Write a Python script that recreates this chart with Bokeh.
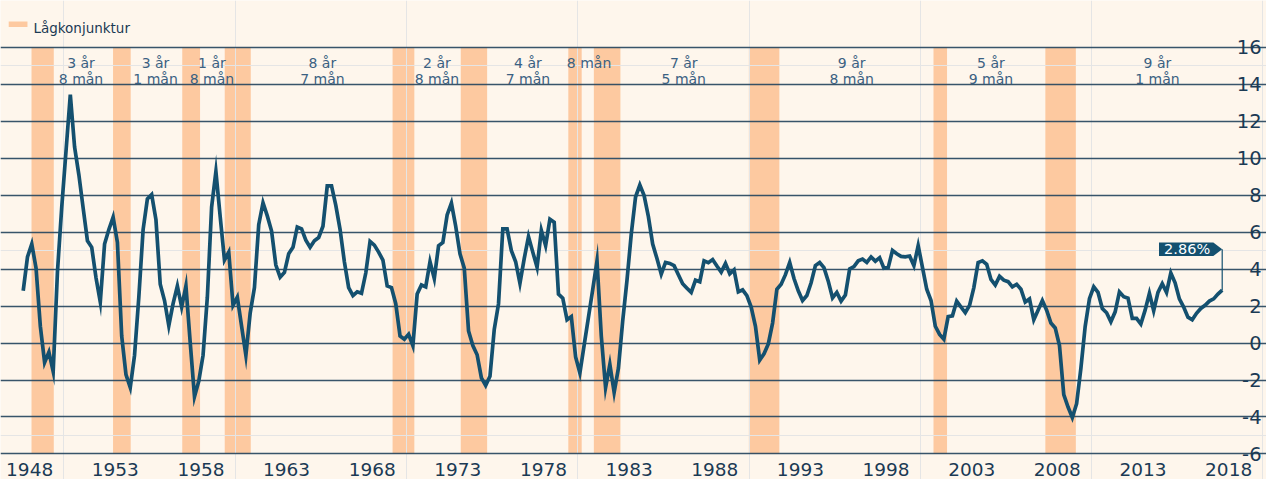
from bokeh.plotting import figure
from bokeh.models import Range1d, Grid, FixedTicker
from bokeh.core.properties import value
from bokeh.embed import file_html
from bokeh.resources import INLINE

# ---------------- data ----------------
start_year = 1947.625   # first quarterly observation (chart time axis)
step = 0.25
gdp_yoy = [
    2.83, 4.66, 5.36, 4.05, 0.91, -1.05, -0.49, -1.54,
    3.87, 7.36, 10.4, 13.44, 10.6, 9.1, 7.3, 5.53,
    5.18, 3.53, 2.22, 5.36, 6.14, 6.81, 5.44, 0.38,
    -1.71, -2.41, -0.66, 2.48, 6.14, 7.8, 8.03, 6.67,
    3.18, 2.3, 0.94, 2.13, 3.09, 1.95, 3.09, 0.03,
    -2.9, -2.06, -0.66, 2.48, 7.36, 9.28, 6.84, 4.49,
    4.92, 2.04, 2.48, 0.91, -0.66, 1.61, 3.0, 6.4,
    7.59, 6.88, 6.06, 4.22, 3.56, 3.82, 4.83, 5.18,
    6.28, 6.18, 5.57, 5.18, 5.53, 5.71, 6.32, 8.5,
    8.5, 7.45, 6.14, 4.4, 3.0, 2.57, 2.77, 2.69,
    3.79, 5.5, 5.3, 4.92, 4.49, 3.09, 3.0, 2.13,
    0.38, 0.21, 0.47, -0.14, 2.65, 3.14, 3.04, 4.4,
    3.49, 5.27, 5.44, 6.93, 7.57, 6.32, 4.83, 4.05,
    0.65, -0.14, -0.63, -1.88, -2.29, -1.8, 0.73, 2.13,
    6.18, 6.18, 5.0, 4.4, 3.23, 4.57, 5.76, 4.92,
    4.1, 6.1, 5.27, 6.7, 6.54, 2.65, 2.43, 1.26,
    1.43, -0.75, -1.62, -0.1, 1.4, 2.9, 4.45, 0.38,
    -2.41, -1.15, -2.67, -1.36, 1.2, 3.4, 5.9, 7.9,
    8.55, 7.98, 6.84, 5.36, 4.57, 3.73, 4.36, 4.31,
    4.19, 3.7, 3.21, 2.97, 2.74, 3.4, 3.32, 4.45,
    4.35, 4.52, 4.17, 3.84, 4.31, 3.75, 3.96, 2.77,
    2.88, 2.57, 1.95, 0.91, -0.92, -0.58, -0.05, 1.08,
    2.91, 3.18, 3.7, 4.36, 3.49, 2.83, 2.3, 2.57,
    3.26, 4.19, 4.36, 4.08, 3.35, 2.44, 2.74, 2.27,
    2.6, 4.01, 4.14, 4.45, 4.54, 4.36, 4.66, 4.43,
    4.62, 4.05, 4.08, 5.01, 4.83, 4.69, 4.66, 4.71,
    4.19, 5.27, 4.1, 2.91, 2.3, 0.91, 0.47, 0.21,
    1.43, 1.47, 2.27, 1.95, 1.64, 2.04, 3.0, 4.36,
    4.45, 4.26, 3.44, 3.14, 3.61, 3.4, 3.32, 3.04,
    3.18, 2.91, 2.22, 2.39, 1.26, 1.78, 2.3, 1.78,
    1.08, 0.82, -0.14, -2.79, -3.46, -4.03, -3.28, -1.36,
    0.9, 2.4, 3.04, 2.74, 1.87, 1.64, 1.15, 1.69,
    2.77, 2.51, 2.43, 1.34, 1.34, 1.03, 1.78, 2.69,
    1.75, 2.74, 3.21, 2.74, 3.79, 3.26, 2.39, 1.95,
    1.4, 1.26, 1.61, 1.87, 2.04, 2.27, 2.39, 2.65,
    2.86,
]
years = [start_year + step * i for i in range(len(gdp_yoy))]

rec_start = [1948.11, 1952.87, 1956.91, 1959.39, 1969.19, 1973.17,
             1979.45, 1980.94, 1989.99, 2000.77, 2007.30]
rec_end = [1949.41, 1953.90, 1957.95, 1960.91, 1970.46, 1974.71,
           1980.23, 1982.49, 1991.77, 2001.56, 2009.08]

exp_mid = [1951.00, 1955.35, 1958.64, 1965.09, 1971.78, 1977.09,
           1980.66, 1986.19, 1995.99, 2004.12, 2013.84]
exp_line1 = ["3 år", "3 år", "1 år", "8 år", "2 år", "4 år",
             "8 mån", "7 år", "9 år", "5 år", "9 år"]
exp_line2 = ["8 mån", "1 mån", "8 mån", "7 mån", "8 mån", "7 mån",
             "", "5 mån", "8 mån", "9 mån", "1 mån"]

x_ticks = [1948, 1953, 1958, 1963, 1968, 1973, 1978, 1983, 1988, 1993,
           1998, 2003, 2008, 2013, 2018]
x_tick_labels = [str(t) for t in x_ticks]
y_ticks = [-6, -4, -2, 0, 2, 4, 6, 8, 10, 12, 14, 16]
y_tick_labels = [str(t) for t in y_ticks]

legend_label = "Lågkonjunktur"
last_label = "2.86%"

# ---------------- layout (reference pixels -> data space) ----------------
REF_W, REF_H = 1282, 495
X0_PX, YEAR0, PX_PER_YEAR = 29.5, 1948.0, 17.345
Y0_PX, PX_PER_UNIT = 354.0, 19.1
W, H = 1266, 479


def t_at(px):
    return YEAR0 + (px - X0_PX) / PX_PER_YEAR


def v_at(py):
    return (Y0_PX - py) / PX_PER_UNIT


BG = "#fef6ec"
BAND = "#fdc9a0"
LINE = "#14506f"
GRID = "#22425c"
TXT = "#1b3a54"
ANN = "#3b6182"
FONT = value("DejaVu Sans")

p = figure(width=W, height=H, x_range=Range1d(t_at(0), t_at(REF_W)),
           y_range=Range1d(v_at(REF_H), v_at(0)), x_axis_location=None,
           y_axis_location=None, output_backend="svg",
           toolbar_location=None, tools="", min_border=0,
           background_fill_color=BG, border_fill_color=BG,
           outline_line_color=None)

# recession bands
p.quad(left=rec_start, right=rec_end, bottom=y_ticks[0], top=y_ticks[-1],
       fill_color=BAND, line_color=None, level="image")

# horizontal grid lines (library grid, bounded like the original)
grid = Grid(dimension=1, ticker=FixedTicker(ticks=y_ticks),
            bounds=(t_at(8), t_at(1244)), grid_line_color=GRID,
            grid_line_width=1.3, grid_line_alpha=0.9)
p.add_layout(grid)

# the series
p.line(years, gdp_yoy, line_color=LINE, line_width=3.7, line_join="miter")

# y tick labels (right side, right aligned)
p.text(x=t_at(1277), y=y_ticks, text=y_tick_labels, text_align="right",
       text_baseline="alphabetic", text_font=FONT, text_font_size="19.5px",
       text_color=TXT)

# x tick labels
p.text(x=x_ticks, y=v_at(485), text=x_tick_labels, text_align="center",
       text_baseline="alphabetic", text_font=FONT, text_font_size="18.5px",
       text_color=TXT)

# expansion duration labels
p.text(x=exp_mid, y=v_at(65), text=exp_line1, text_align="center",
       text_baseline="alphabetic", text_font=FONT, text_font_size="14px",
       text_color=ANN)
p.text(x=exp_mid, y=v_at(81), text=exp_line2, text_align="center",
       text_baseline="alphabetic", text_font=FONT, text_font_size="14px",
       text_color=ANN)

# legend
p.quad(left=[t_at(8.3)], right=[t_at(27.3)], bottom=[v_at(27.3)], top=[v_at(21.7)],
       fill_color=BAND, line_color=None)
p.text(x=[t_at(33.3)], y=[v_at(28.3)], text=[legend_label], text_align="left",
       text_baseline="alphabetic", text_font=FONT, text_font_size="13.5px",
       text_color=TXT)

# callout for last value
tip_x = years[-1]
last_v = gdp_yoy[-1]
cy = v_at(257)
hh = 7 / PX_PER_UNIT
box_r = tip_x - 9 / PX_PER_YEAR
box_l = box_r - 55 / PX_PER_YEAR
p.segment(x0=[tip_x], y0=[cy], x1=[tip_x], y1=[last_v], line_color=LINE,
          line_width=1.2)
p.patch(x=[box_l, box_r, tip_x, box_r, box_l],
        y=[cy + hh, cy + hh, cy, cy - hh, cy - hh],
        fill_color=LINE, line_color=None)
p.text(x=[(box_l + box_r) / 2 + 1 / PX_PER_YEAR], y=[cy], text=[last_label],
       text_align="center", text_baseline="middle", text_font=FONT,
       text_font_size="14.5px", text_color="white")

open("out.html", "w").write(file_html(p, INLINE))
